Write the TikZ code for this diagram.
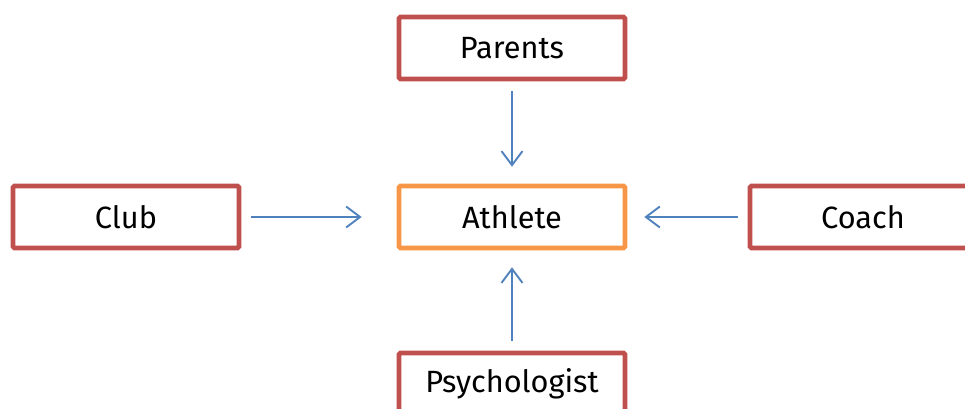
\documentclass[tikz,border=0pt]{standalone}
\usepackage{fontspec}
\setmainfont{Fira Sans}
\usetikzlibrary{arrows.meta}
\definecolor{boxred}{HTML}{C0504D}
\definecolor{boxorange}{HTML}{F79646}
\definecolor{linkblue}{HTML}{4F81BD}
\tikzset{
  actor/.style={draw=boxred, line width=2.6pt, rounded corners=0.8pt, rectangle, minimum width=4.52cm, minimum height=1.24cm, align=center, font=\fontsize{17.5}{21}\selectfont},
  centre/.style={actor, draw=boxorange},
  link/.style={draw=linkblue, line width=1.1pt, -{Straight Barb[length=0.28cm, width=0.42cm, line width=1.1pt]}, shorten <=0.2cm, shorten >=0.34cm}
}
\begin{document}
\begin{tikzpicture}[x=0.02cm, y=-0.02cm]
\useasboundingbox (0,0) rectangle (965,409);
% centre
\node[centre] (athlete) at (512,217) {Athlete};

% influences
\node[actor] (parents) at (512,48) {Parents};
\node[actor] (club) at (126,217) {Club};
\node[actor] (coach) at (863,217) {Coach};
\node[actor] (psych) at (512,384) {Psychologist};

% connectors
\draw[link] (parents) -- (athlete);
\draw[link, shorten >=0.7cm] (club) -- (athlete);
\draw[link] (coach) -- (athlete);
\draw[link] (psych) -- (athlete);
\end{tikzpicture}
\end{document}
